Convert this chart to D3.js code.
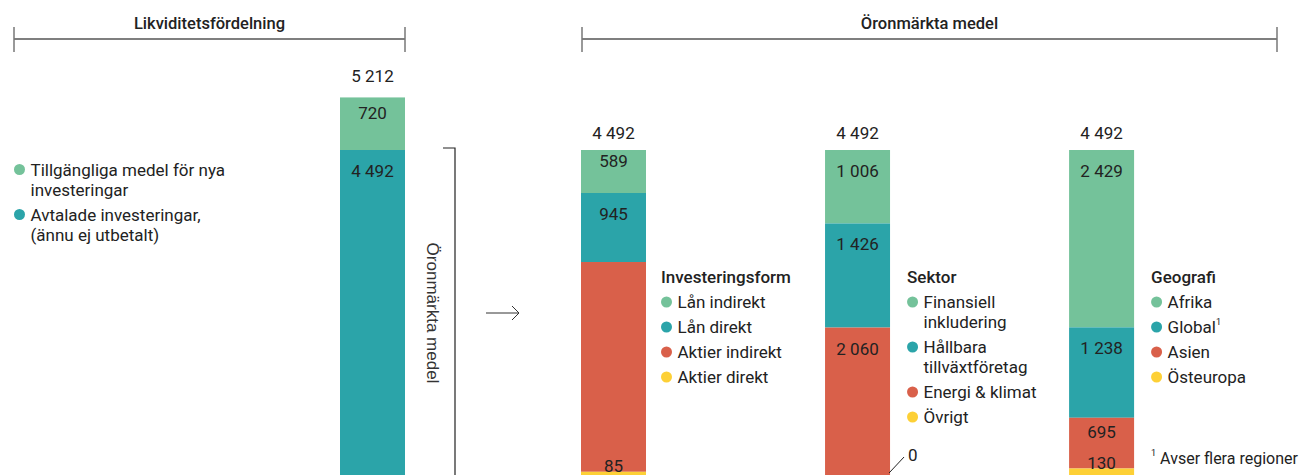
<!DOCTYPE html>
<html>
<head>
<meta charset="utf-8">
<script src="https://cdn.jsdelivr.net/npm/d3@7"></script>
<style>
  body { margin: 0; background: #fff; }
  text { font-family: Roboto, "Liberation Sans", sans-serif; fill: #222; }
</style>
</head>
<body>
<div class="plot"></div>
<script>
// Data
const liqCats = ["Tillgängliga medel för nya\ninvesteringar", "Avtalade investeringar,\n(ännu ej utbetalt)"];
const liqValues = [720, 4492];

const formTitle = "Investeringsform";
const formCats = ["Lån indirekt", "Lån direkt", "Aktier indirekt", "Aktier direkt"];
const formValues = [589, 945, 2873, 85];

const sectorTitle = "Sektor";
const sectorCats = ["Finansiell\ninkludering", "Hållbara\ntillväxtföretag", "Energi & klimat", "Övrigt"];
const sectorValues = [1006, 1426, 2060, 0];

const geoTitle = "Geografi";
const geoCats = ["Afrika", "Global¹", "Asien", "Östeuropa"];
const geoValues = [2429, 1238, 695, 130];

const colors = ["#74c29a", "#2ba4a9", "#d9604a", "#fdd036"];

const W = 1301, H = 475;
const FS = "17px";
const svg = d3.select(".plot")
    .append("svg")
        .attr("width", W)
        .attr("height", H);

const fmt = v => d3.format(",")(v).replace(/,/g, " ");

// y scale: shared for all bars
const y = d3.scaleLinear()
    .domain([0, 4492])
    .range([478, 150]);

const barW = 65;
// band scale for the three breakdown bars
const xGroup = d3.scaleBand()
    .domain([formTitle, sectorTitle, geoTitle])
    .range([581, 1134])
    .paddingInner(0.734)
    .paddingOuter(0);

// Draw one stacked bar, index 0 on top
function drawBar(x0, values, opts) {
    const total = d3.sum(values);
    const g = svg.append("g");
    let acc = total;
    values.forEach((v, i) => {
        const top = y(acc), bottom = y(acc - v);
        acc -= v;
        if (v > 0) {
            g.append("rect")
                .attr("x", x0)
                .attr("y", top)
                .attr("width", barW)
                .attr("height", bottom - top)
                .attr("fill", colors[i]);
        }
        if (opts.hide && opts.hide.includes(i)) return;
        const h = bottom - top;
        if (v === 0) {
            // leader line for zero value
            g.append("line")
                .attr("x1", x0 + barW - 1).attr("y1", bottom - 5)
                .attr("x2", x0 + barW + 14).attr("y2", bottom - 21)
                .attr("stroke", "#222").attr("stroke-width", 1);
            g.append("text")
                .attr("x", x0 + barW + 18)
                .attr("y", bottom - 23)
                .attr("dominant-baseline", "central")
                .style("font-size", FS)
                .text(fmt(v));
            return;
        }
        const off = Math.min(21, Math.max(-6, h / 2 - 11));
        g.append("text")
            .attr("x", x0 + barW / 2)
            .attr("y", top + off)
            .attr("text-anchor", "middle")
            .attr("dominant-baseline", "central")
            .style("font-size", FS)
            .text(fmt(v));
    });
    // total label
    g.append("text")
        .attr("x", x0 + barW / 2)
        .attr("y", y(total) - opts.totalOff)
        .attr("text-anchor", "middle")
        .attr("dominant-baseline", "central")
        .style("font-size", FS)
        .text(fmt(total));
}

// Legend with multi-line labels
function drawLegend(x, yStart, title, cats) {
    const g = svg.append("g").attr("transform", `translate(${x},0)`);
    let yy = yStart;
    if (title) {
        g.append("text")
            .attr("x", 0).attr("y", yy)
            .attr("dominant-baseline", "central")
            .style("font-size", FS)
            .style("font-weight", 500)
            .text(title);
        yy += 25;
    }
    cats.forEach((c, i) => {
        const lines = c.split("\n");
        g.append("circle")
            .attr("cx", 5.5).attr("cy", yy)
            .attr("r", 5.5)
            .attr("fill", colors[i]);
        lines.forEach((ln, j) => {
            const t = g.append("text")
                .attr("x", 16.5).attr("y", yy + j * 20)
                .attr("dominant-baseline", "central")
                .style("font-size", FS);
            if (ln.endsWith("¹")) {
                t.append("tspan").text(ln.slice(0, -1));
                t.append("tspan").attr("dy", -5).style("font-size", "9px").text("1");
            } else {
                t.text(ln);
            }
        });
        yy += 25 + 20 * (lines.length - 1);
    });
}

// Header brackets
function header(x1, x2, label) {
    const g = svg.append("g");
    g.append("line").attr("x1", x1).attr("x2", x2).attr("y1", 39).attr("y2", 39)
        .attr("stroke", "#555").attr("stroke-width", 1.5);
    [x1, x2].forEach(xx => g.append("line")
        .attr("x1", xx).attr("x2", xx).attr("y1", 27).attr("y2", 52)
        .attr("stroke", "#777").attr("stroke-width", 1.5));
    g.append("text")
        .attr("x", (x1 + x2) / 2).attr("y", 23)
        .attr("text-anchor", "middle")
        .attr("dominant-baseline", "central")
        .style("font-size", "16.5px")
        .style("font-weight", 500)
        .text(label);
}
header(14, 405, "Likviditetsfördelning");
header(582, 1277, "Öronmärkta medel");

// Liquidity bar
drawBar(340, liqValues, {totalOff: 21});
drawLegend(14, 169.5, null, liqCats);

// Bracket around earmarked funds
svg.append("path")
    .attr("d", `M443,${y(4492) - 2}H455V${H}`)
    .attr("fill", "none")
    .attr("stroke", "#222")
    .attr("stroke-width", 1.2);
svg.append("text")
    .attr("transform", "translate(432,313) rotate(90)")
    .attr("text-anchor", "middle")
    .attr("dominant-baseline", "central")
    .style("font-family", "'Liberation Sans', Arial, sans-serif")
    .style("font-size", "17px")
    .style("fill", "#333")
    .text("Öronmärkta medel");

// Arrow
svg.append("path")
    .attr("d", "M486,313H519M512,306L519,313L512,320")
    .attr("fill", "none")
    .attr("stroke", "#333")
    .attr("stroke-width", 1);

// Breakdown bars
drawBar(xGroup(formTitle), formValues, {totalOff: 17, hide: [2]});
drawBar(xGroup(sectorTitle), sectorValues, {totalOff: 17});
drawBar(xGroup(geoTitle), geoValues, {totalOff: 17});

drawLegend(xGroup(formTitle) + 80, 277, formTitle, formCats);
drawLegend(xGroup(sectorTitle) + 82, 277, sectorTitle, sectorCats);
drawLegend(xGroup(geoTitle) + 82, 277, geoTitle, geoCats);

// Footnote
const fn = svg.append("text")
    .attr("x", xGroup(geoTitle) + 82)
    .attr("y", 458)
    .attr("dominant-baseline", "central")
    .style("font-size", "16px");
fn.append("tspan").attr("dy", -5).style("font-size", "9px").text("1");
fn.append("tspan").attr("dy", 5).text(" Avser flera regioner");
</script>
</body>
</html>
